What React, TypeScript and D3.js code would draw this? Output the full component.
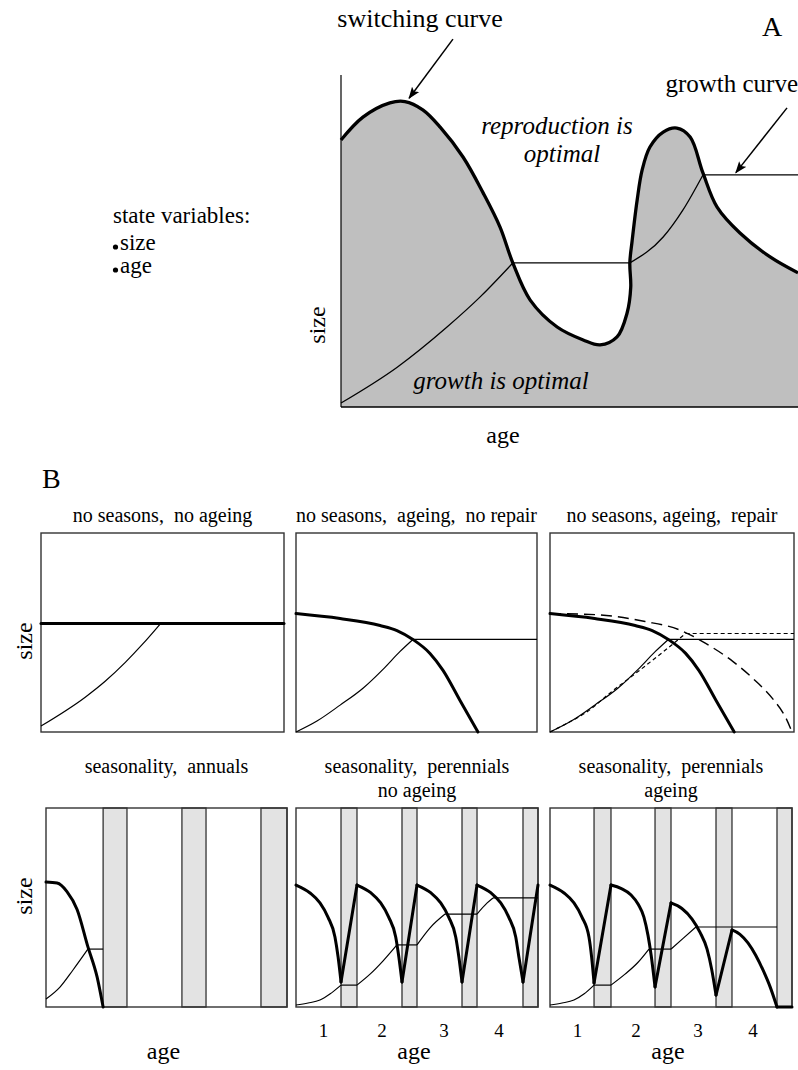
import * as d3 from "d3"
import React from "react"

type Pt = [number, number]

// ---- panel A: schematic state space (age, size both on 0-100 scale)
const switchA: Pt[] = [
  [0, 80.4], [4.8, 87.3], [10.7, 91.6], [14, 92], [17.9, 89.5], [21.7, 84.3],
  [26.7, 75.3], [31.1, 64.5], [34.8, 54.2], [37.6, 43.4], [41.4, 32.2],
  [47.3, 24.1], [53, 20.2], [56.7, 18.7], [60.4, 21.1], [62.6, 28.3],
  [63.4, 36.1], [63.2, 43.4], [63.7, 50], [64.8, 62.3], [65.9, 71.4],
  [67.6, 78.3], [70.5, 82.8], [73.5, 84], [76.4, 81.3], [79.2, 70.5],
  [82.3, 60.2], [87.3, 52.4], [93.9, 45.2], [100, 40.4],
]
const growthA: Pt[][] = [
  [[0, 1.2], [12.3, 12], [23.2, 24.1], [30.4, 33.1], [37.6, 43.4]],
  [[37.6, 43.4], [63.2, 43.4]],
  [[63.2, 43.4], [70.5, 51.2], [74.8, 59.3], [79.2, 69.9]],
  [[79.2, 69.9], [100, 69.9]],
]
const arrowsA = [
  { from: [24.5, 110.8] as Pt, to: [14.9, 93] as Pt },
  { from: [97.6, 90.1] as Pt, to: [86.4, 70.6] as Pt },
]
const stateVars = ["size", "age"]

// ---- panel B, top row (no seasons)
const topTitles = ["no seasons,  no ageing", "no seasons,  ageing,  no repair", "no seasons, ageing,  repair"]
const flatSwitch: Pt[] = [[0, 54.5], [100, 54.5]]
const flatGrowth: Pt[] = [[0, 3], [18.2, 17.5], [26.4, 25.5], [34.7, 35], [41.7, 44], [49.2, 54.5]]
const ageingSwitch: Pt[] = [[0, 59.5], [18.3, 57], [34.9, 53.5], [41.9, 51], [48.5, 46.5], [55.6, 39.5], [61, 31], [68, 16], [75.5, 0]]
const ageingGrowth: Pt[][] = [
  [[0, 0], [8.7, 5.5], [18.3, 13.5], [27.8, 22], [36.1, 31.5], [43.2, 40.5], [48.5, 46.5]],
  [[48.5, 46.5], [100, 46.5]],
]
const repairSwitch: Pt[] = [[0, 59.5], [18.5, 59], [39, 55.5], [52.7, 51.5], [63.8, 44.5], [74.9, 35.5], [84.4, 25.5], [91.4, 16.5], [96.7, 7], [99.2, 0]]
const repairGrowth: Pt[][] = [
  [[0, 0], [8.7, 5.5], [14.4, 9.5], [25.5, 20.5], [36.2, 30.5], [46.1, 40], [55.6, 49.5]],
  [[55.6, 49.5], [100, 49.5]],
]

// ---- panel B, bottom row (seasonality)
const bottomTitles = [["seasonality,  annuals"], ["seasonality,  perennials", "no ageing"], ["seasonality,  perennials", "ageing"]]
const annualWinters: Pt[] = [[23.7, 33.6], [56.4, 66.4], [89.2, 100]]
const annualSwitch: Pt[][] = [[[0, 62.8], [4.6, 62.3], [8.7, 58], [12.9, 49], [17.4, 30.2], [21.2, 15.1], [23.7, 0]]]
const annualGrowth: Pt[][] = [
  [[0, 4], [5.8, 10], [11.2, 18.6], [17.4, 29.1]],
  [[17.4, 29.1], [23.7, 29.1]],
]

const perennialWinters: Pt[] = [[18.6, 25.2], [43.8, 50], [68.6, 74.8], [93.8, 100]]
const perennialSwitch: Pt[][] = [
  [[0, 61.3], [5.8, 57.3], [9.9, 52.3], [13.2, 45.2], [16.1, 35.2], [17.4, 25.1], [18.6, 12.6]],
  [[18.6, 12.6], [25.2, 61.3]],
  [[25.2, 61.3], [31, 57.3], [35, 52.3], [38.3, 45.2], [41.2, 35.2], [42.5, 25.1], [43.8, 12.6]],
  [[43.8, 12.6], [50, 61.3]],
  [[50, 61.3], [55.8, 57.3], [59.8, 52.3], [63.1, 45.2], [66, 35.2], [67.3, 25.1], [68.6, 12.6]],
  [[68.6, 12.6], [74.8, 61.3]],
  [[74.8, 61.3], [80.6, 57.3], [84.6, 52.3], [87.9, 45.2], [90.8, 35.2], [92.1, 25.1], [93.8, 12.6]],
  [[93.8, 12.6], [100, 61.3]],
]
const perennialGrowth: Pt[][] = [
  [[0, 1], [5, 2], [9.9, 3.5], [14, 6.5], [18.6, 11]],
  [[18.6, 11], [25.2, 11]],
  [[25.2, 11], [30.6, 16.5], [36, 23.2], [41.7, 31.2]],
  [[41.7, 31.2], [50, 31.2]],
  [[50, 31.2], [55.4, 39.8], [61.6, 46.7]],
  [[61.6, 46.7], [74.8, 46.7]],
  [[74.8, 46.7], [79, 52.3], [81.4, 54.8]],
  [[81.4, 54.8], [100, 54.8]],
]

const ageingWinters: Pt[] = [[18.2, 25.2], [43.4, 50], [68.6, 75.2], [93.8, 100]]
const ageingSeasonSwitch: Pt[][] = [
  [[0, 61.3], [5.8, 57.3], [9.9, 52.3], [13.2, 45.2], [16.1, 35.2], [17.2, 25.1], [18.2, 12.1]],
  [[18.2, 12.1], [25.2, 61.3]],
  [[25.2, 61.3], [29.5, 59.5], [33.5, 56.3], [36.5, 51.5], [38.8, 45.2], [40.5, 36], [41.8, 26], [43.4, 10.1]],
  [[43.4, 10.1], [50, 52.3]],
  [[50, 52.3], [54.5, 49.5], [58.7, 44.2], [62, 37.5], [64.9, 29.1], [66.8, 19], [68.6, 6]],
  [[68.6, 6], [75.2, 38.7]],
  [[75.2, 38.7], [78.5, 36.5], [81.8, 32.2], [85, 26], [88, 18.6], [91, 10], [93.8, 0]],
  [[93.8, 0], [100, 0]],
]
const ageingSeasonGrowth: Pt[][] = [
  [[0, 1], [5, 2], [9.9, 3.5], [14, 6.5], [18.2, 11]],
  [[18.2, 11], [25.2, 11]],
  [[25.2, 11], [31, 16.5], [36.4, 22.5], [40.9, 29.1]],
  [[40.9, 29.1], [50, 29.1]],
  [[50, 29.1], [55, 34.5], [60.3, 40.2]],
  [[60.3, 40.2], [93.8, 40.2]],
]
const yearLabels = ["1", "2", "3", "4"]
const yearTickAges = [11.4, 35.5, 61.2, 83.9]

const FONT = "'Liberation Serif', 'Times New Roman', serif"
const smooth = d3.curveCatmullRom.alpha(0.5)

type Box = { x0: number, x1: number, y0: number, y1: number }
const topBoxes: Box[] = [
  { x0: 41, x1: 284, y0: 533, y1: 732 },
  { x0: 296, x1: 537, y0: 533, y1: 732 },
  { x0: 550, x1: 794, y0: 533, y1: 732 },
]
const bottomBoxes: Box[] = [
  { x0: 46, x1: 287, y0: 808, y1: 1007 },
  { x0: 296, x1: 538, y0: 808, y1: 1007 },
  { x0: 550, x1: 792, y0: 808, y1: 1007 },
]

const scalesFor = (b: Box) => {
  const x = d3.scaleLinear().domain([0, 100]).range([b.x0, b.x1])
  const y = d3.scaleLinear().domain([0, 100]).range([b.y1, b.y0])
  // age always increases along these curves, so monotone keeps them free of wiggles
  const line = d3.line<Pt>().x(d => x(d[0])).y(d => y(d[1])).curve(d3.curveMonotoneX)
  return { x, y, line }
}

const SmallPanel = ({ box, winters = [], thick = [], thin = [], longDash = [], shortDash = [], ticks = false }: any) => {
  const { x, y, line } = scalesFor(box)
  return (
    <g>
      {winters.map((w: Pt, i: number) => (
        <rect key={i} x={x(w[0])} y={y(100)} width={x(w[1]) - x(w[0])} height={y(0) - y(100)}
          fill="#e3e3e3" stroke="#333" strokeWidth={1.3} />
      ))}
      <rect x={box.x0} y={box.y0} width={box.x1 - box.x0} height={box.y1 - box.y0}
        fill="none" stroke="#333" strokeWidth={1.4} />
      {thin.map((s: Pt[], i: number) => (
        <path key={"t" + i} d={line(s) || ""} fill="none" stroke="#000" strokeWidth={1.2} />
      ))}
      {shortDash.map((s: Pt[], i: number) => (
        <path key={"s" + i} d={line(s) || ""} fill="none" stroke="#000" strokeWidth={1.2} strokeDasharray="4,3" />
      ))}
      {longDash.map((s: Pt[], i: number) => (
        <path key={"l" + i} d={line(s) || ""} fill="none" stroke="#000" strokeWidth={1.4} strokeDasharray="11,6" />
      ))}
      {thick.map((s: Pt[], i: number) => (
        <path key={"k" + i} d={line(s) || ""} fill="none" stroke="#000" strokeWidth={3}
          strokeLinejoin="round" strokeLinecap="round" />
      ))}
      {ticks && yearLabels.map((l, i) => (
        <text key={l} x={x(yearTickAges[i])} y={1037} textAnchor="middle" fontSize={19}>{l}</text>
      ))}
    </g>
  )
}

const App = () => {
  const xA = d3.scaleLinear().domain([0, 100]).range([341, 798])
  const yA = d3.scaleLinear().domain([0, 100]).range([407, 75])
  const lineA = d3.line<Pt>().x(d => xA(d[0])).y(d => yA(d[1])).curve(smooth)
  const growthLineA = d3.line<Pt>().x(d => xA(d[0])).y(d => yA(d[1])).curve(d3.curveMonotoneX)
  const areaA = d3.area<Pt>().x(d => xA(d[0])).y0(yA(0)).y1(d => yA(d[1])).curve(smooth)

  return (
    <svg width={798} height={1070} viewBox="0 0 798 1070"
      style={{ position: "absolute", left: 0, top: 0, background: "#fff" }}
      fontFamily={FONT} fill="#000">
      <defs>
        <marker id="arrowHead" viewBox="0 0 12 10" refX={11} refY={5} markerWidth={12} markerHeight={10}
          markerUnits="userSpaceOnUse" orient="auto">
          <path d="M0,0.5 L12,5 L0,9.5 L2.5,5 z" fill="#000" />
        </marker>
      </defs>

      {/* ---------- A ---------- */}
      <path d={areaA(switchA) || ""} fill="#bfbfbf" />
      <line x1={xA(0)} x2={xA(0)} y1={75} y2={yA(0)} stroke="#000" strokeWidth={1.2} />
      <line x1={xA(0)} x2={798} y1={yA(0)} y2={yA(0)} stroke="#000" strokeWidth={1.6} />
      {growthA.map((s, i) => (
        <path key={i} d={growthLineA(s) || ""} fill="none" stroke="#000" strokeWidth={1.3} />
      ))}
      <path d={lineA(switchA) || ""} fill="none" stroke="#000" strokeWidth={3.3} strokeLinejoin="round" />
      {arrowsA.map((a, i) => (
        <line key={i} x1={xA(a.from[0])} y1={yA(a.from[1])} x2={xA(a.to[0])} y2={yA(a.to[1])}
          stroke="#000" strokeWidth={1.5} markerEnd="url(#arrowHead)" />
      ))}
      <text x={420} y={27} textAnchor="middle" fontSize={26}>switching curve</text>
      <text x={772} y={36} textAnchor="middle" fontSize={28}>A</text>
      <text x={798} y={92} textAnchor="end" fontSize={25}>growth curve</text>
      <text x={557} y={134} textAnchor="middle" fontSize={25} fontStyle="italic">reproduction is</text>
      <text x={562} y={162} textAnchor="middle" fontSize={25} fontStyle="italic">optimal</text>
      <text x={501} y={389} textAnchor="middle" fontSize={25} fontStyle="italic">growth is optimal</text>
      <text transform="translate(325,325) rotate(-90)" textAnchor="middle" fontSize={24}>size</text>
      <text x={503} y={443} textAnchor="middle" fontSize={24}>age</text>

      <text x={113} y={223} fontSize={23}>state variables:</text>
      {stateVars.map((v, i) => (
        <g key={v}>
          <circle cx={115.5} cy={247 + i * 23} r={2.6} fill="#000" />
          <text x={120} y={250 + i * 23} fontSize={23}>{v}</text>
        </g>
      ))}

      {/* ---------- B ---------- */}
      <text x={42} y={488} fontSize={28}>B</text>
      {topTitles.map((t, i) => (
        <text key={t} x={(topBoxes[i].x0 + topBoxes[i].x1) / 2} y={522} textAnchor="middle"
          fontSize={20} style={{ whiteSpace: "pre" }}>{t}</text>
      ))}
      <SmallPanel box={topBoxes[0]} thick={[flatSwitch]} thin={[flatGrowth]} />
      <SmallPanel box={topBoxes[1]} thick={[ageingSwitch]} thin={ageingGrowth} />
      <SmallPanel box={topBoxes[2]} thick={[ageingSwitch]} thin={ageingGrowth}
        longDash={[repairSwitch]} shortDash={repairGrowth} />
      <text transform="translate(32,641) rotate(-90)" textAnchor="middle" fontSize={24}>size</text>

      {bottomTitles.map((lines, i) => lines.map((t, j) => (
        <text key={i + "-" + j} x={(bottomBoxes[i].x0 + bottomBoxes[i].x1) / 2} y={773 + j * 24}
          textAnchor="middle" fontSize={20} style={{ whiteSpace: "pre" }}>{t}</text>
      )))}
      <SmallPanel box={bottomBoxes[0]} winters={annualWinters} thick={annualSwitch} thin={annualGrowth} />
      <SmallPanel box={bottomBoxes[1]} winters={perennialWinters} thick={perennialSwitch} thin={perennialGrowth} ticks />
      <SmallPanel box={bottomBoxes[2]} winters={ageingWinters} thick={ageingSeasonSwitch} thin={ageingSeasonGrowth} ticks />
      <text transform="translate(32,896) rotate(-90)" textAnchor="middle" fontSize={24}>size</text>
      {bottomBoxes.map((b, i) => (
        <text key={i} x={(b.x0 + b.x1) / 2 - 3} y={1059} textAnchor="middle" fontSize={24}>age</text>
      ))}
    </svg>
  )
}

export default App
